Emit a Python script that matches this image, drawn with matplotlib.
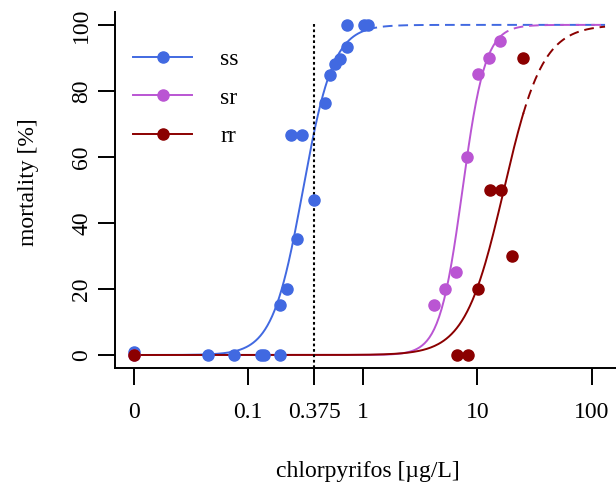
import numpy as np
import matplotlib
matplotlib.use("Agg")
import matplotlib.pyplot as plt
from matplotlib.lines import Line2D

# ---------------------------
# Data
# ---------------------------
ss_conc = [0, 0.0446, 0.0751, 0.128, 0.137, 0.188, 0.19, 0.218, 0.267, 0.375,
           0.238, 0.297, 0.469, 0.522, 0.577, 0.63, 0.721, 0.729, 1.02, 1.1]
ss_mort = [1, 0, 0, 0, 0, 0, 15, 20, 35, 47,
           66.5, 66.5, 76.3, 84.8, 88.1, 89.7, 93.2, 100, 100, 100]

sr_conc = [0, 4.17, 5.23, 6.53, 8.1, 10.1, 12.7, 15.9]
sr_mort = [0, 15, 20, 25, 60, 85, 90, 95]

rr_conc = [0, 6.58, 8.2, 10.2, 12.9, 16.0, 20.1, 25.1]
rr_mort = [0, 0, 0, 20, 50, 50, 30, 90]

# fitted log-logistic curves: EC50, slope (logit per decade), highest tested conc
fits = {
    "ss": (0.30, 7.5, 1.1),
    "sr": (7.4, 10.0, 15.9),
    "rr": (17.0, 5.9, 25.1),
}
colors = {"ss": "#4169E1", "sr": "#BA55D3", "rr": "#8B0000"}
labels = ["ss", "sr", "rr"]

xticks = [0, 0.1, 0.375, 1, 10, 100]
xtick_labels = ["0", "0.1", "0.375", "1", "10", "100"]
yticks = [0, 20, 40, 60, 80, 100]

ZERO_POS = 0.01  # where the 0 concentration is placed on the log axis
X_END = 130


def xpos(v):
    v = np.asarray(v, dtype=float)
    return np.where(v == 0, ZERO_POS, v)


def loglogistic(x, ec50, slope):
    return 100 / (1 + np.exp(-slope * (np.log10(x) - np.log10(ec50))))


plt.rcParams['font.family'] = ['Liberation Serif', 'DejaVu Serif']
FS = 17

fig = plt.figure(figsize=(6.16, 4.87), dpi=100)
ax = fig.add_axes([115 / 616, 1 - 368 / 487, 501 / 616, 356 / 487])

# curves: solid inside tested range, dashed beyond
for name in labels:
    ec50, slope, xmax = fits[name]
    xs = np.logspace(np.log10(ZERO_POS), np.log10(xmax), 300)
    xd = np.logspace(np.log10(xmax), np.log10(X_END), 200)
    ax.plot(xs, loglogistic(xs, ec50, slope), color=colors[name], lw=1.4)
    ax.plot(xd, loglogistic(xd, ec50, slope), color=colors[name], lw=1.4,
            dashes=(5, 3))

ax.vlines(0.375, -4, 101, colors="black", linestyles=(0, (1.3, 1.3)), lw=1.5)

data = {"ss": (ss_conc, ss_mort), "sr": (sr_conc, sr_mort), "rr": (rr_conc, rr_mort)}
for name in labels:
    c, m = data[name]
    ax.plot(xpos(c), m, "o", color=colors[name], ms=8, mec=colors[name], zorder=3)

ax.set_xscale("log")
ax.set_xlim(0.00687, 162)
ax.set_ylim(-3.94, 103.9)
ax.set_xticks(xpos(xticks))
ax.set_xticklabels(xtick_labels)
ax.minorticks_off()
ax.set_yticks(yticks)
ax.set_yticklabels([str(v) for v in yticks], rotation=90, va="center")

for s in ["top", "right"]:
    ax.spines[s].set_visible(False)
for s in ["left", "bottom"]:
    ax.spines[s].set_linewidth(1.4)
ax.tick_params(axis="both", length=12.5, width=1.4, labelsize=FS)
ax.tick_params(axis="x", pad=12)
ax.tick_params(axis="y", pad=4)

ax.set_xlabel("chlorpyrifos [µg/L]", fontsize=FS)
ax.set_ylabel("mortality [%]", fontsize=FS)
ax.xaxis.set_label_coords(0.505, -0.29)
ax.xaxis.label.set_va("center")
ax.yaxis.set_label_coords(-0.1717, 0.522)
ax.yaxis.label.set_va("center")

handles = [Line2D([0], [0], color=colors[n], lw=1.4, marker="o", ms=8) for n in labels]
ax.legend(handles, labels, loc="upper left", bbox_to_anchor=(0.036, 0.898),
          frameon=False, fontsize=FS, handlelength=2.5, handletextpad=1.2,
          labelspacing=0.73, borderpad=0, borderaxespad=0, numpoints=1)

plt.savefig("out.png", dpi=100)
